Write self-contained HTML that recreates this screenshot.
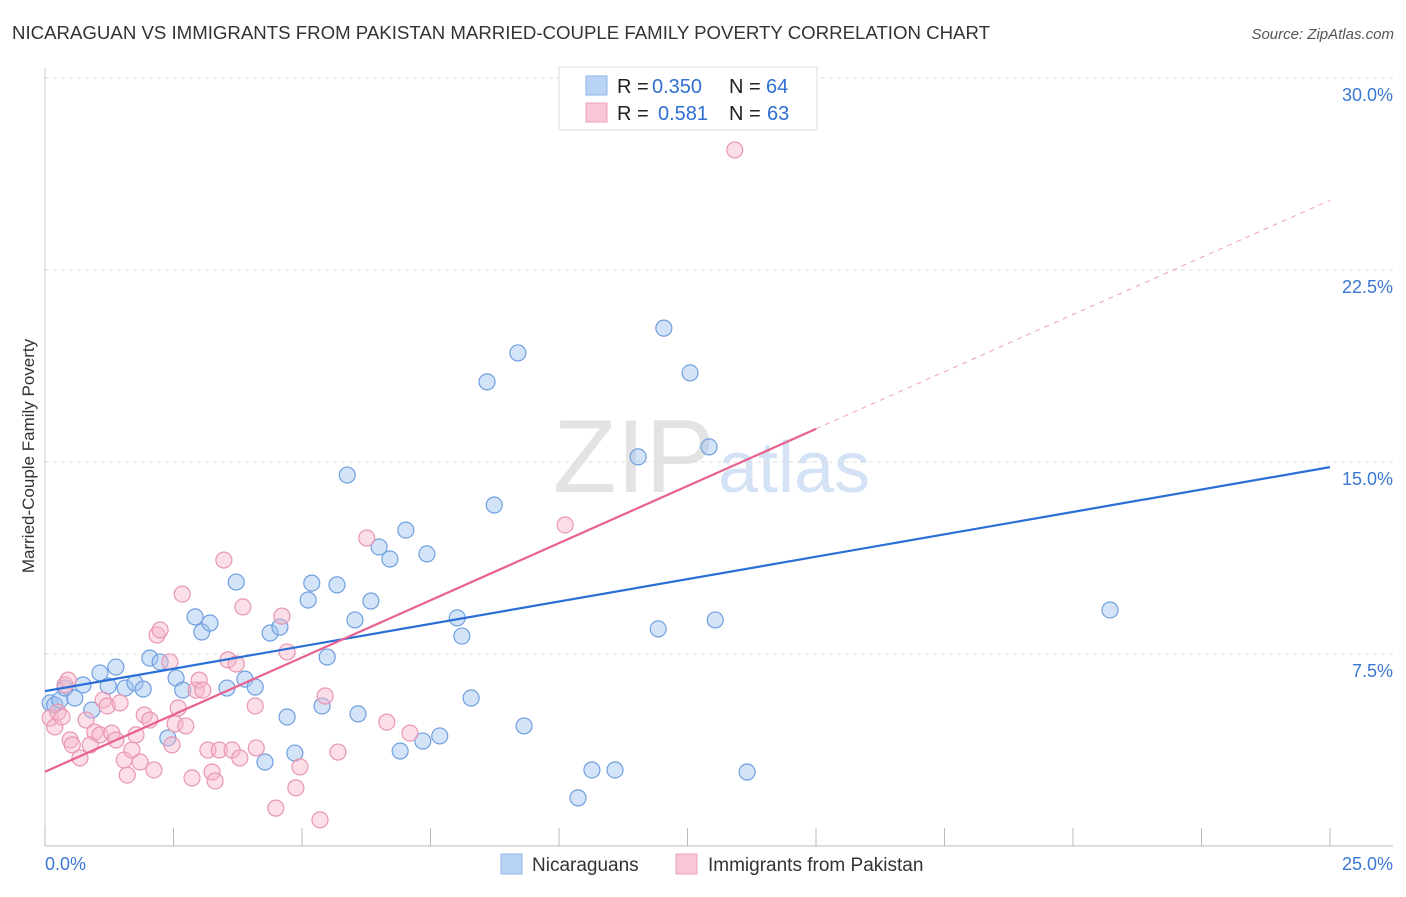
<!DOCTYPE html>
<html><head><meta charset="utf-8"><style>
body{margin:0;background:#fff;font-family:"Liberation Sans",sans-serif}
svg text{font-family:"Liberation Sans",sans-serif}
</style></head><body>
<svg id="chart" width="1406" height="892" xmlns="http://www.w3.org/2000/svg">
<text x="12" y="39" font-size="18" fill="#333" textLength="978" lengthAdjust="spacingAndGlyphs">NICARAGUAN VS IMMIGRANTS FROM PAKISTAN MARRIED-COUPLE FAMILY POVERTY CORRELATION CHART</text>
<text x="1394" y="39" font-size="15" fill="#555" text-anchor="end" font-style="italic">Source: ZipAtlas.com</text>
<text x="553" y="492" font-size="104" font-family="Liberation Serif" fill="#ddd" opacity="0.8">ZIP</text>
<text x="718" y="492" font-size="72" fill="#c9dcf2" opacity="0.8">atlas</text>
<text transform="translate(34,456) rotate(-90)" font-size="17" fill="#333" text-anchor="middle">Married-Couple Family Poverty</text>
<g id="grid"></g><g id="axes"></g><g id="pts"></g><g id="lines"></g>
<g>
<rect x="559" y="67" width="258" height="63" fill="#fff" stroke="#ddd"/>
<rect x="586" y="76" width="21" height="19" fill="#b8d3f5" stroke="#8fb4e6"/>
<rect x="586" y="103" width="21" height="19" fill="#f8c6d4" stroke="#eda3ba"/>
<text x="617" y="93" font-size="20" fill="#222">R =</text><text x="652" y="93" font-size="20" fill="#2f6fd3">0.350</text>
<text x="729" y="93" font-size="20" fill="#222">N =</text><text x="766" y="93" font-size="20" fill="#2f6fd3">64</text>
<text x="617" y="120" font-size="20" fill="#222">R =</text><text x="658" y="120" font-size="20" fill="#2f6fd3">0.581</text>
<text x="729" y="120" font-size="20" fill="#222">N =</text><text x="767" y="120" font-size="20" fill="#2f6fd3">63</text>
</g>
<g>
<rect x="501" y="854" width="21" height="20" fill="#b8d3f5" stroke="#8fb4e6"/>
<text x="532" y="871" font-size="19" fill="#333">Nicaraguans</text>
<rect x="676" y="854" width="21" height="20" fill="#f8c6d4" stroke="#eda3ba"/>
<text x="708" y="871" font-size="19" fill="#333">Immigrants from Pakistan</text>
</g>
</svg>
<script>
const yTicks=[7.5,15,22.5,30];
const yTickLabels=["7.5%","15.0%","22.5%","30.0%"];
const blueX=[0.10,0.19,0.29,0.39,0.58,0.74,0.91,1.07,1.23,1.38,1.56,1.75,1.91,2.04,2.24,2.39,2.55,2.68,2.92,3.05,3.21,3.54,3.72,3.89,4.09,4.28,4.38,4.57,4.71,4.86,5.12,5.19,5.39,5.49,5.68,6.03,6.09,6.34,6.50,6.71,6.91,7.02,7.35,7.43,7.68,8.02,8.11,8.29,8.60,8.74,9.20,9.32,10.37,10.64,11.09,11.54,11.93,12.04,12.55,12.92,13.04,13.66,20.72,5.88];
const blueY=[5.59,5.51,5.70,6.17,5.78,6.29,5.31,6.76,6.25,6.99,6.17,6.37,6.13,7.34,7.19,4.22,6.56,6.09,8.95,8.36,8.71,6.17,10.31,6.52,6.21,3.28,8.32,8.55,5.04,3.63,9.61,10.27,5.47,7.38,10.20,8.83,5.16,9.57,11.68,11.21,3.71,12.34,4.10,11.41,4.30,8.91,8.20,5.78,18.13,13.32,19.26,4.69,1.88,2.97,2.97,15.20,8.48,20.23,18.48,15.59,8.83,2.89,9.22,14.49];
const pinkX=[0.10,0.19,0.25,0.33,0.39,0.45,0.49,0.53,0.68,0.80,0.88,0.97,1.07,1.13,1.21,1.30,1.38,1.46,1.54,1.60,1.69,1.77,1.85,1.93,2.04,2.12,2.18,2.24,2.43,2.53,2.59,2.67,2.74,2.86,2.94,3.00,3.07,3.17,3.25,3.31,3.39,3.48,3.56,3.64,3.72,3.79,3.85,4.09,4.11,4.49,4.61,4.71,4.88,4.96,5.35,5.45,5.70,6.26,6.65,7.10,10.12,13.42,2.47];
const pinkY=[5.00,4.65,5.23,5.04,6.29,6.48,4.14,3.95,3.44,4.92,3.95,4.45,4.34,5.70,5.47,4.41,4.14,5.59,3.36,2.77,3.75,4.34,3.28,5.12,4.92,2.97,8.24,8.44,7.19,4.77,5.39,9.84,4.69,2.66,6.09,6.48,6.09,3.75,2.89,2.54,3.75,11.17,7.27,3.75,7.11,3.44,9.34,5.47,3.83,1.48,8.98,7.58,2.27,3.09,1.02,5.86,3.67,12.03,4.84,4.41,12.54,27.19,3.95];
const blueFit=[6.05,14.8];
const pinkFit=[2.9,0.893];
const X=v=>45+v*51.4, Y=v=>846-v*25.6;
const NS="http://www.w3.org/2000/svg";
function mk(p,t,a){const e=document.createElementNS(NS,t);for(const k in a)e.setAttribute(k,a[k]);document.getElementById(p).appendChild(e);return e;}
yTicks.forEach((t,i)=>{
 const g=mk('grid','line',{x1:45,x2:1393,y1:Y(t),y2:Y(t),stroke:'#ddd','stroke-dasharray':'4,4'});
 
 
 const l=mk('axes','text',{x:1393,y:Y(t)+23,'font-size':18,fill:'#3a78d4','text-anchor':'end'});
 
 
 l.textContent=yTickLabels[i];
});
const ax=mk('axes','line',{x1:45,x2:1393,y1:846,y2:846,stroke:'#bbb'});


const ay=mk('axes','line',{x1:45,x2:45,y1:68,y2:846,stroke:'#ccc'});


for(let i=0;i<=10;i++){const t=mk('axes','line',{x1:X(i*2.5),x2:X(i*2.5),y1:828,y2:846,stroke:'#bbb'});
 
 }
[["0.0%",45,'start'],["25.0%",1393,'end']].forEach(d=>{const l=mk('axes','text',{x:d[1],y:870,'font-size':18,fill:'#3a78d4','text-anchor':d[2]});
 
 
 l.textContent=d[0];});
blueX.forEach((v,i)=>{const c=mk('pts','circle',{cx:X(v),cy:Y(blueY[i]),r:8,fill:'rgba(160,196,240,0.45)',stroke:'#6f9fe0','stroke-width':1.2});
 
 });
pinkX.forEach((v,i)=>{const c=mk('pts','circle',{cx:X(v),cy:Y(pinkY[i]),r:8,fill:'rgba(246,182,202,0.45)',stroke:'#e996b2','stroke-width':1.2});
 
 });
const bl=mk('lines','line',{x1:X(0),y1:Y(blueFit[0]),x2:X(25),y2:Y(blueFit[1]),stroke:'#2a6fd6','stroke-width':2.2});


const pl=mk('lines','line',{x1:X(0),y1:Y(pinkFit[0]),x2:X(15),y2:Y(pinkFit[0]+pinkFit[1]*15),stroke:'#e8628f','stroke-width':2.2});


const pd=mk('lines','line',{x1:X(15),y1:Y(pinkFit[0]+pinkFit[1]*15),x2:X(25),y2:Y(pinkFit[0]+pinkFit[1]*25),stroke:'#eea0b8','stroke-width':1,'stroke-dasharray':'5,5'});


</script>
</body></html>
